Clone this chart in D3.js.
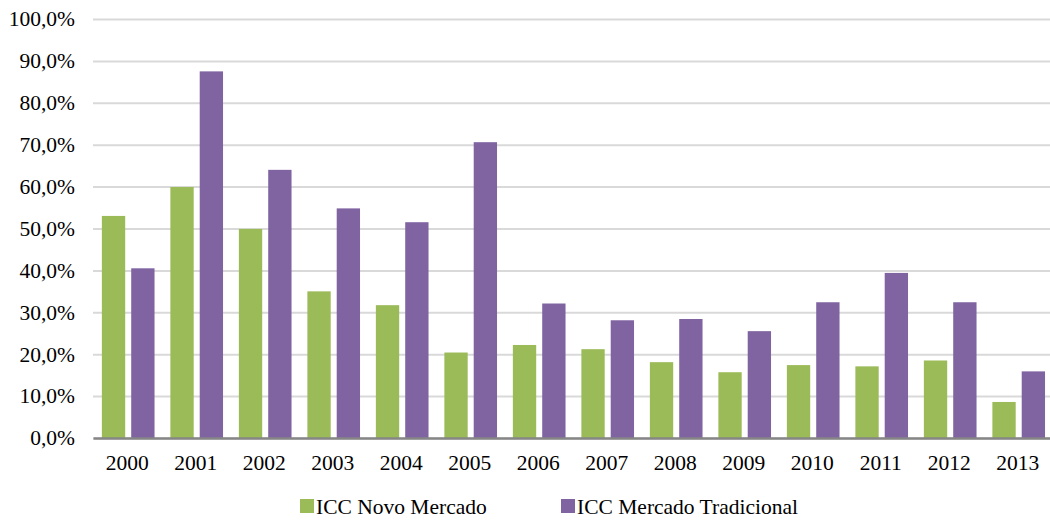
<!DOCTYPE html>
<html>
<head>
<meta charset="utf-8">
<script src="https://cdn.jsdelivr.net/npm/d3@7"></script>
<style>
  html, body { margin: 0; padding: 0; background: #fff; }
  svg { display: block; font-family: "Liberation Serif", "Times New Roman", serif; }
</style>
</head>
<body>
<svg id="chart" width="1050" height="520"></svg>
<script>
// Years on the category axis
const years = ["2000","2001","2002","2003","2004","2005","2006","2007","2008","2009","2010","2011","2012","2013"];
// ICC (%) per series
const novoMercado = [53.0, 59.9, 49.9, 35.0, 31.7, 20.4, 22.2, 21.2, 18.1, 15.7, 17.4, 17.1, 18.5, 8.6];
const mercadoTradicional = [40.5, 87.5, 64.0, 54.8, 51.5, 70.6, 32.1, 28.1, 28.4, 25.5, 32.4, 39.4, 32.4, 15.9];
const seriesNames = ["ICC Novo Mercado", "ICC Mercado Tradicional"];
const yTicks = [0, 10, 20, 30, 40, 50, 60, 70, 80, 90, 100];

const colors = ["#9BBB59", "#8064A2"];
const fontSize = 21.5;
const svg = d3.select("#chart");
const W = 1050, H = 520;
const plotLeft = 93, plotRight = 1052, plotTop = 19, plotBottom = 438;

const x = d3.scaleBand().domain(years).range([plotLeft, plotRight]).paddingInner(0).paddingOuter(0);
const inner = d3.scaleBand().domain([0, 1]).range([0, x.bandwidth()])
  .paddingInner(0.205).paddingOuter(0.27).align(0.56);
const y = d3.scaleLinear().domain([0, 100]).range([plotBottom, plotTop]);

const fmt = v => d3.format(".1f")(v).replace(".", ",") + "%";

// Horizontal gridlines and tick labels
const yAxis = d3.axisLeft(y).tickValues(yTicks).tickSize(-(W - plotLeft)).tickFormat(fmt).tickPadding(18);
const gy = svg.append("g").attr("transform", `translate(${plotLeft},0)`).call(yAxis);
gy.select(".domain").remove();
gy.selectAll(".tick line").attr("stroke", "#d9d9d9").attr("stroke-width", 2);
gy.selectAll(".tick text").attr("font-size", fontSize).attr("fill", "#000").attr("font-family", "Liberation Serif, serif");

// Bars
const data = years.map((yr, i) => ({ year: yr, vals: [novoMercado[i], mercadoTradicional[i]] }));
const groups = svg.append("g").selectAll("g").data(data).join("g")
  .attr("transform", d => `translate(${x(d.year)},0)`);
groups.selectAll("rect").data(d => d.vals.map((v, k) => ({ v, k }))).join("rect")
  .attr("x", d => inner(d.k))
  .attr("width", inner.bandwidth())
  .attr("y", d => y(d.v))
  .attr("height", d => y(0) - y(d.v))
  .attr("fill", d => colors[d.k]);

// Category axis
const xAxis = d3.axisBottom(x).tickSize(0).tickPadding(17);
const gx = svg.append("g").attr("transform", `translate(0,${y(0)})`).call(xAxis);
gx.select(".domain").attr("stroke", "#868686").attr("stroke-width", 2.5);
gx.selectAll(".tick text").attr("font-size", fontSize).attr("fill", "#000").attr("font-family", "Liberation Serif, serif");

// Legend
const legendX = [300, 561];
const legend = svg.append("g");
seriesNames.forEach((name, k) => {
  legend.append("rect").attr("x", legendX[k]).attr("y", 499).attr("width", 14).attr("height", 14).attr("fill", colors[k]);
  legend.append("text").attr("x", legendX[k] + 16).attr("y", 514).attr("font-size", fontSize).attr("fill", "#000").text(name);
});
</script>
</body>
</html>
